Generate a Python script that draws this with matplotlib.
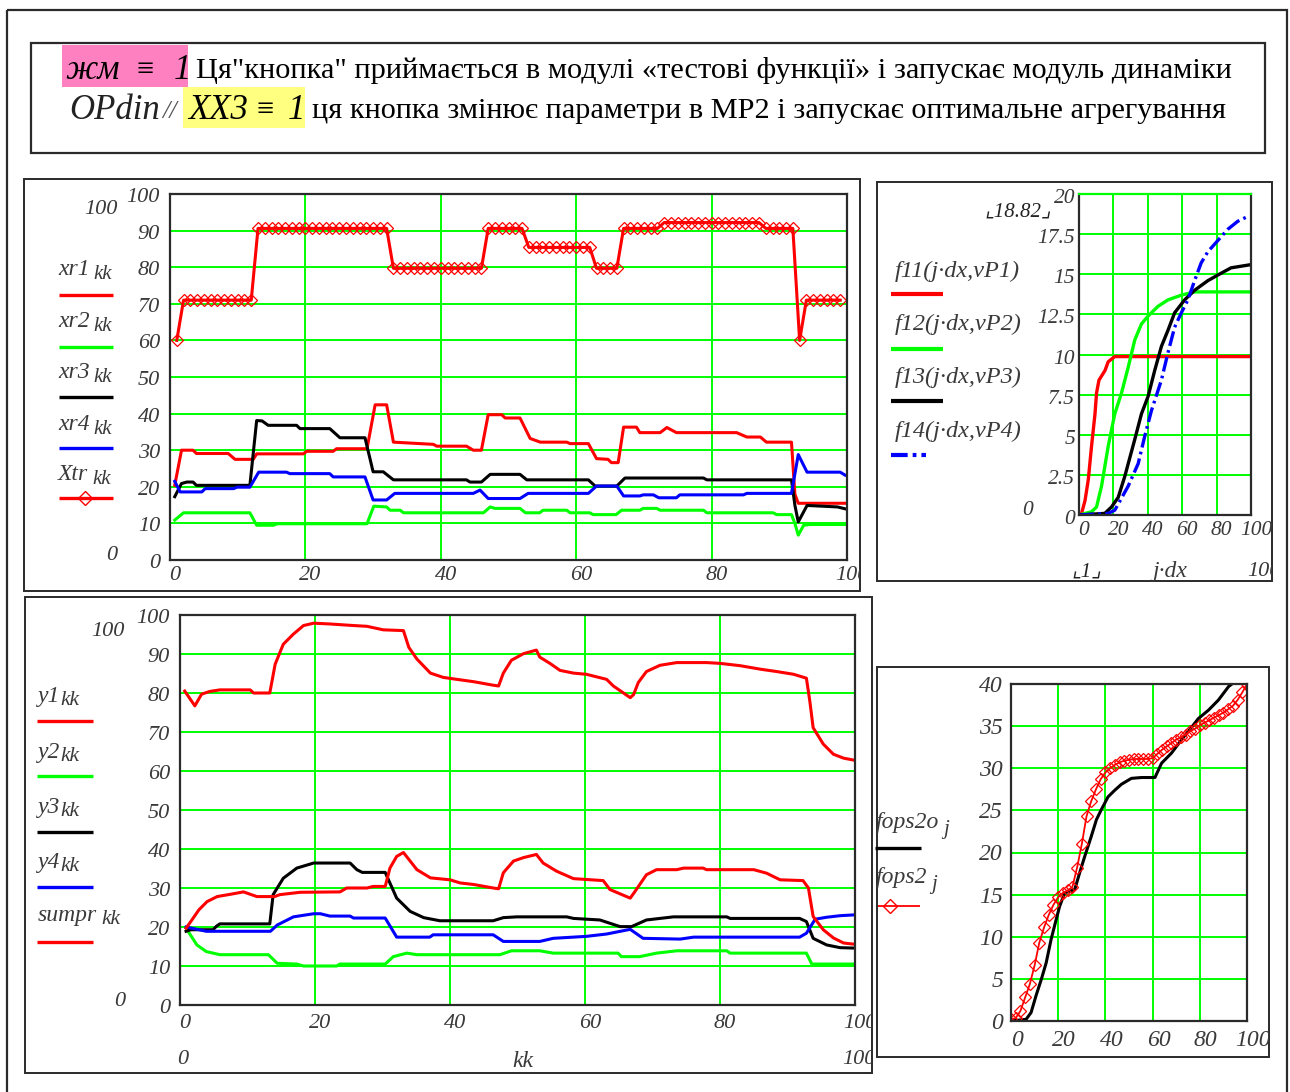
import numpy as np
import matplotlib
matplotlib.use("Agg")
import matplotlib.pyplot as plt
from matplotlib.patches import Rectangle
from matplotlib import transforms

# ---------------- data: aggregated regime, top-left plot ----------------
kk = np.arange(1, 100)
Xtr = [60,
       71, 71, 71, 71, 71, 71, 71, 71, 71, 71, 71,
       90.6, 90.6, 90.6, 90.6, 90.6, 90.6, 90.6, 90.6, 90.6, 90.6,
       90.6, 90.6, 90.6, 90.6, 90.6, 90.6, 90.6, 90.6, 90.6, 90.6,
       79.7, 79.7, 79.7, 79.7, 79.7, 79.7, 79.7, 79.7, 79.7, 79.7, 79.7, 79.7, 79.7, 79.7,
       90.6, 90.6, 90.6, 90.6, 90.6, 90.6,
       85.4, 85.4, 85.4, 85.4, 85.4, 85.4, 85.4, 85.4, 85.4, 85.4,
       79.7, 79.7, 79.7, 79.7,
       90.6, 90.6, 90.6, 90.6, 90.6, 90.6,
       92.2, 92.2, 92.2, 92.2, 92.2, 92.2, 92.2, 92.2, 92.2, 92.2, 92.2, 92.2, 92.2, 92.2, 92.2,
       90.6, 90.6, 90.6, 90.6, 90.6,
       60,
       71, 71, 71, 71, 71, 71]

xr1_t = [0.7, 1.7, 3.4, 3.9, 8.6, 9.6, 12.3, 12.8, 19.7, 20.2, 24.1, 24.6, 29.1, 30.3, 32.0, 33.0,
         38.9, 39.4, 43.8, 44.8, 46.0, 47.0, 49.0, 49.5, 51.7, 53.2, 54.7, 58.6, 59.1, 61.8, 63.0,
         64.7, 65.2, 66.2, 67.0, 68.9, 69.4, 72.4, 73.4, 74.8, 83.7, 85.2, 87.2, 88.1, 91.8, 92.3,
         92.8, 99.7]
xr1_v = [20.4, 30.0, 30.0, 29.1, 29.1, 27.5, 27.5, 29.0, 29.0, 29.7, 29.7, 30.4, 30.4, 42.4, 42.4,
         32.2, 31.6, 31.1, 31.1, 30.0, 30.0, 39.7, 39.7, 38.8, 38.8, 33.2, 32.2, 32.2, 31.8, 31.8,
         27.7, 27.5, 26.6, 26.6, 36.3, 36.3, 34.8, 34.8, 36.2, 34.8, 34.8, 33.6, 33.6, 32.2, 32.2,
         18.0, 15.5, 15.5]

xr2_t = [0.7, 2.0, 11.8, 12.8, 15.3, 15.8, 29.1, 30.1, 32.0, 32.5, 34.0, 34.5, 46.3, 47.3, 48.0,
         51.7, 52.5, 54.6, 55.1, 58.6, 59.1, 62.0, 62.5, 65.9, 66.7, 69.4, 69.9, 71.9, 72.4, 78.8,
         79.3, 89.1, 89.6, 91.8, 92.3, 92.8, 93.6, 94.5, 99.7]
xr2_v = [10.9, 12.9, 12.9, 9.5, 9.5, 9.9, 9.9, 14.7, 14.5, 13.6, 13.6, 12.9, 12.9, 14.5, 14.1,
         14.1, 12.9, 12.9, 13.6, 13.6, 12.9, 12.9, 12.4, 12.4, 13.6, 13.6, 14.1, 14.1, 13.6, 13.6,
         12.9, 12.9, 12.4, 12.4, 10.0, 6.8, 9.5, 9.7, 9.7]

xr3_t = [0.7, 1.7, 2.5, 3.4, 3.9, 11.8, 12.8, 13.6, 14.5, 18.7, 19.2, 23.6, 25.1, 28.8, 29.5, 30.0,
         31.5, 33.0, 43.8, 44.3, 46.0, 47.3, 51.7, 52.7, 61.8, 62.8, 66.0, 67.2, 78.8, 79.3, 91.8,
         92.3, 92.8, 94.1, 98.6, 99.7]
xr3_v = [17.3, 20.9, 21.3, 21.3, 20.4, 20.4, 38.1, 38.0, 36.8, 36.8, 35.9, 35.9, 33.4, 33.4, 28.0,
         24.1, 24.1, 21.9, 21.9, 21.3, 21.3, 23.4, 23.4, 21.9, 21.9, 20.2, 20.2, 22.4, 22.4, 21.9,
         21.9, 15.0, 10.4, 14.9, 14.5, 14.0]

xr4_t = [0.7, 1.5, 4.7, 5.2, 9.4, 9.9, 11.8, 13.1, 17.2, 17.7, 23.6, 24.1, 28.8, 30.0, 32.0, 33.2,
         44.8, 45.8, 47.0, 51.7, 52.9, 61.8, 63.0, 66.0, 67.0, 69.4, 69.9, 71.4, 72.2, 74.8, 75.3,
         84.7, 85.2, 91.8, 92.8, 94.1, 99.0, 99.7]
xr4_v = [21.5, 18.6, 18.6, 19.5, 19.5, 19.9, 19.9, 24.0, 24.0, 23.6, 23.6, 22.7, 22.7, 16.4, 16.4,
         18.2, 18.2, 19.1, 16.8, 16.8, 18.2, 18.2, 20.2, 20.2, 17.5, 17.5, 17.8, 17.8, 17.0, 17.0,
         17.8, 17.8, 18.2, 18.2, 28.8, 24.0, 24.0, 23.2]

# ---------------- data: test functions, top-right plot ----------------
f11_x = [0, 1.5, 3.5, 5.4, 7.3, 9.3, 10.2, 11.6, 15.1, 17.0, 20.8, 100]
f11_y = [0, 0.1, 0.9, 2.2, 4.3, 6.3, 7.6, 8.4, 9.0, 9.55, 9.87, 9.87]
f12_x = [0, 7.3, 10.2, 13.1, 17.0, 20.8, 24.7, 28.6, 32.4, 36.3, 40.2, 45.9, 51.7, 59.5, 67.2, 100]
f12_y = [0, 0.2, 0.5, 1.8, 4.3, 6.3, 7.6, 9.2, 10.9, 11.9, 12.4, 13.0, 13.4, 13.7, 13.9, 13.9]
f13_x = [0, 15.0, 18.9, 22.8, 26.6, 32.4, 36.3, 40.2, 44.0, 47.9, 51.7, 55.6, 61.4, 67.2, 74.9,
         80.7, 88.4, 94.2, 100]
f13_y = [0, 0.1, 0.5, 1.1, 2.4, 4.7, 6.3, 7.4, 9.0, 10.5, 11.5, 12.6, 13.4, 14.0, 14.6, 14.95,
         15.4, 15.5, 15.6]
f14_x = [0, 17.0, 20.8, 28.6, 34.4, 38.2, 42.1, 47.9, 51.7, 55.6, 59.5, 63.3, 67.2, 71.0, 74.9,
         80.7, 86.5, 92.3, 98.1]
f14_y = [0, 0.1, 0.3, 1.8, 3.2, 4.9, 6.5, 8.4, 10.1, 11.7, 12.6, 13.4, 14.6, 15.7, 16.4, 17.1,
         17.8, 18.3, 18.6]

# ---------------- data: dynamics, bottom-left plot ----------------
y1_t = [0.7, 2.2, 3.2, 4.4, 5.9, 10.4, 10.9, 13.3, 14.1, 15.3, 16.8, 18.3, 19.8, 22.2, 25.7, 27.7,
        30.1, 33.1, 33.9, 35.1, 37.1, 39.0, 41.0, 43.5, 46.4, 47.2, 47.9, 49.1, 50.9, 52.8, 53.3,
        54.8, 56.3, 58.3, 60.2, 63.2, 64.2, 66.7, 67.2, 67.9, 69.1, 71.1, 73.6, 78.0, 80.0, 83.0,
        86.0, 88.4, 90.9, 92.8, 93.3, 93.8, 95.3, 96.8, 98.3, 99.8]
y1_v = [80.5, 76.7, 79.7, 80.4, 80.8, 80.8, 80.0, 80.0, 87.4, 92.5, 95.1, 97.3, 97.9, 97.7, 97.3,
        97.1, 96.2, 96.0, 91.7, 88.7, 85.1, 84.0, 83.5, 82.9, 82.0, 81.8, 85.1, 88.4, 90.1, 91.0,
        89.2, 87.6, 85.8, 85.1, 84.8, 83.5, 81.8, 78.8, 79.6, 82.7, 85.5, 87.1, 87.8, 87.8, 87.6,
        87.0, 86.1, 85.5, 84.8, 83.8, 78.0, 71.1, 66.9, 64.3, 63.3, 62.8]

y2_t = [0.9, 2.5, 3.9, 5.9, 13.1, 14.4, 17.3, 18.3, 23.2, 23.7, 30.4, 31.6, 33.6, 35.1, 47.4, 49.1,
        53.3, 55.3, 64.9, 65.4, 68.1, 70.6, 73.6, 81.0, 81.5, 92.8, 93.6, 99.8]
y2_v = [19.7, 15.4, 13.7, 12.9, 12.9, 10.7, 10.5, 10.0, 10.0, 10.5, 10.5, 12.4, 13.3, 12.9, 12.9,
        13.9, 13.9, 13.3, 13.3, 12.4, 12.4, 13.3, 13.9, 13.9, 13.3, 13.3, 10.5, 10.5]

y3_t = [0.9, 1.6, 4.9, 5.4, 5.9, 13.3, 13.8, 15.3, 17.3, 19.8, 25.2, 26.2, 27.0, 30.4, 32.1, 34.1,
        36.1, 38.5, 46.4, 47.9, 49.9, 57.3, 58.3, 62.2, 65.2, 66.9, 69.1, 73.1, 81.0, 81.5, 91.8,
        92.8, 93.8, 95.8, 97.8, 99.8]
y3_v = [18.9, 19.3, 19.3, 20.2, 20.8, 20.8, 28.3, 32.5, 35.1, 36.4, 36.4, 34.7, 34.0, 34.0, 27.4,
        24.0, 22.4, 21.6, 21.6, 22.4, 22.6, 22.6, 22.2, 21.8, 20.1, 20.1, 21.8, 22.6, 22.6, 22.2,
        22.2, 21.4, 17.1, 15.4, 14.7, 14.6]

y4_t = [0.9, 3.9, 13.4, 14.4, 16.8, 19.8, 20.8, 22.2, 25.2, 25.7, 30.4, 32.1, 37.0, 37.5, 46.4,
        47.9, 53.3, 55.3, 60.2, 63.2, 66.7, 68.6, 74.1, 76.1, 91.8, 92.8, 94.1, 95.8, 97.8, 99.8]
y4_v = [20.0, 18.9, 18.9, 20.5, 22.6, 23.4, 23.4, 22.8, 22.8, 22.3, 22.3, 17.4, 17.4, 18.0, 18.0,
        16.3, 16.3, 17.1, 17.6, 18.2, 19.4, 17.1, 16.9, 17.4, 17.4, 18.4, 22.0, 22.5, 22.9, 23.1]

sumpr_t = [0.9, 1.6, 2.8, 4.0, 5.5, 7.5, 9.4, 11.4, 14.0, 14.8, 17.8, 23.7, 24.7, 27.7, 28.6, 30.4,
           31.1, 32.1, 33.1, 35.1, 37.1, 40.0, 41.5, 43.5, 46.4, 47.2, 47.9, 49.4, 50.9, 52.8, 53.8,
           55.8, 58.3, 62.7, 63.7, 66.7, 67.4, 69.1, 70.6, 73.6, 74.6, 77.5, 78.0, 85.0, 86.9, 88.9,
           92.3, 93.1, 93.8, 95.3, 96.8, 98.3, 99.8]
sumpr_v = [19.7, 21.4, 24.4, 26.5, 27.8, 28.4, 29.0, 27.8, 27.8, 28.3, 28.9, 29.0, 30.0, 30.0, 30.4,
           30.4, 35.1, 38.1, 39.1, 34.7, 32.6, 32.1, 31.3, 30.9, 30.0, 29.8, 33.9, 36.9, 37.8, 38.6,
           36.4, 34.3, 32.4, 31.9, 29.6, 27.4, 29.1, 33.4, 34.7, 34.7, 35.1, 35.1, 34.7, 34.7, 33.8,
           32.1, 31.9, 30.0, 22.7, 19.3, 17.2, 15.9, 15.6]

# ---------------- data: cost functions, bottom-right plot ----------------
fops2o_x = [0, 6.4, 8.5, 10.6, 12.8, 14.9, 17.0, 19.1, 20.6, 22.7, 27.0, 29.1, 31.2, 34.0, 36.2,
            38.3, 41.1, 44.0, 46.8, 51.0, 55.3, 61.0, 63.8, 68.0, 72.3, 76.6, 79.4, 83.7, 87.9,
            92.2, 93.6, 100]
fops2o_y = [0, 0.2, 1.0, 3.0, 4.9, 6.9, 9.7, 12.0, 13.6, 15.2, 15.6, 17.6, 19.5, 21.9, 23.9, 25.1,
            26.6, 27.4, 28.1, 28.8, 28.9, 28.9, 30.6, 31.8, 33.4, 34.9, 35.9, 36.9, 38.1, 39.7,
            40.0, 41.5]
j = np.arange(0, 101, 2)
fops2 = [0.2, 0.35, 1.2, 2.8, 4.4, 6.6, 9.3, 11.1, 12.6, 13.8,
         14.7, 15.2, 15.5, 15.9, 18.2, 21.0, 24.3, 26.1, 27.5, 28.7,
         29.5, 30.0, 30.4, 30.7, 30.9, 31.0, 31.1, 31.1, 31.1, 31.1,
         31.2, 31.7, 32.2, 32.6, 33.0, 33.4, 33.7, 34.0, 34.4, 34.7,
         35.1, 35.4, 35.7, 36.0, 36.3, 36.6, 37.0, 37.4, 38.1, 39.0,
         40.0]

# ---------------- figure ----------------
W, H = 1290, 1092
fig = plt.figure(figsize=(W / 100, H / 100), dpi=100)
bg = fig.add_axes([0, 0, 1, 1], zorder=0)
bg.set_xlim(0, W)
bg.set_ylim(H, 0)
bg.axis('off')
renderer = fig.canvas.get_renderer()

SERIF = 'Liberation Serif'
TCOL = '#3a3a3a'
RED, GREEN, BLUE, BLACK = '#ff0000', '#00ff00', '#0000ff', '#000000'
GRID = '#00ff00'


def frame(x0, y0, x1, y1, lw=1.4, color='#2a2a2a'):
    r = Rectangle((x0, y0), x1 - x0, y1 - y0, fill=False, ec=color, lw=lw)
    bg.add_patch(r)
    return r


def panel(l, t, r, b, xlim, ylim, xstep, ystep):
    ax = fig.add_axes([l / W, 1 - b / H, (r - l) / W, (b - t) / H], zorder=2)
    ax.set_xlim(*xlim)
    ax.set_ylim(*ylim)
    ax.set_xticks(np.arange(xlim[0], xlim[1] + 1e-6, xstep))
    ax.set_yticks(np.arange(ylim[0], ylim[1] + 1e-6, ystep))
    ax.grid(True, color=GRID, lw=1.4)
    ax.set_axisbelow(True)
    ax.tick_params(length=0, labelbottom=False, labelleft=False)
    for s in ax.spines.values():
        s.set_color('#2a2a2a')
        s.set_linewidth(1.6)
    return ax


def tick_texts(ax, clip, xvals, yvals, xdx, xdy, ydx, ydy, fs=16):
    for v, s in xvals:
        tr = transforms.offset_copy(ax.get_xaxis_transform(), fig=fig, x=xdx, y=xdy, units='dots')
        t = ax.text(v, 0, s, transform=tr, ha='center', va='baseline', fontsize=fs,
                    family=SERIF, style='italic', color=TCOL, clip_on=True)
        t.set_clip_path(clip)
    for v, s in yvals:
        tr = transforms.offset_copy(ax.get_yaxis_transform(), fig=fig, x=ydx, y=ydy, units='dots')
        t = ax.text(0, v, s, transform=tr, ha='right', va='baseline', fontsize=fs,
                    family=SERIF, style='italic', color=TCOL, clip_on=True)
        t.set_clip_path(clip)


def label(x, y, s, fs=16, ha='left', clip=None, family=SERIF, color=TCOL, style='italic'):
    t = bg.text(x, y, s, fontsize=fs, ha=ha, va='baseline', family=family, style=style,
                color=color, clip_on=clip is not None)
    if clip is not None:
        t.set_clip_path(clip)
    return t


def sublabel(x, y, main, sub, fs=17, fs_sub=15, gap=3, drop=4):
    t = label(x, y, main, fs=fs)
    w = t.get_window_extent(renderer).width
    label(x + w + gap, y + drop, sub, fs=fs_sub)


def fit_text(x0, x1, y, s, fs=20, **kw):
    t = bg.text(x0, y, s, va='baseline', ha='left', fontsize=fs, **kw)
    w = t.get_window_extent(renderer).width
    t.set_fontsize(fs * (x1 - x0) / w)
    return t


def swatch(x0, x1, y, color, lw=2.4, **kw):
    bg.plot([x0, x1], [y, y], color=color, lw=lw, solid_capstyle='butt', **kw)


# outer page border
frame(7, 10, 1287, 1110, lw=1.6)

# ---------------- header box ----------------
frame(31, 43, 1265, 153, lw=1.6)
bg.add_patch(Rectangle((62, 45), 126, 42, fc='#ff80c0', ec='none'))
bg.add_patch(Rectangle((183, 87), 122, 41, fc='#ffff80', ec='none'))
label(65, 79, 'жм', fs=25, color='black')
label(136, 78, '≡', fs=22, color='black', style='normal')
label(174, 79, '1', fs=25, color='black')
fit_text(196, 1235, 78, 'Ця"кнопка" приймається в модулі «тестові функції» і запускає модуль динаміки',
         fs=20, family=SERIF, color='black')
label(69, 119, 'OPdin', fs=25, color='#222222')
label(162, 118, '//', fs=19, color='#555555')
label(188, 119, 'XX3', fs=25, color='black')
label(256, 118, '≡', fs=22, color='black', style='normal')
label(288, 119, '1', fs=25, color='black')
fit_text(312, 1228, 118, 'ця кнопка змінює параметри в МР2 і запускає оптимальне агрегування',
         fs=20, family=SERIF, color='black')

# ---------------- top-left: regimes ----------------
clip1 = frame(24, 179, 860, 591)
ax1 = panel(170, 194, 847, 560, (0, 100), (0, 100), 20, 10)
ax1.plot(kk, Xtr, color=RED, lw=2.2, marker='D', ms=6, mfc='none', mec=RED, mew=0.9)
ax1.plot(xr1_t, xr1_v, color=RED, lw=2.2)
ax1.plot(xr2_t, xr2_v, color=GREEN, lw=2.2)
ax1.plot(xr3_t, xr3_v, color=BLACK, lw=2.2)
ax1.plot(xr4_t, xr4_v, color=BLUE, lw=2.2)
tick_texts(ax1, clip1,
           [(v, str(v)) for v in range(0, 101, 20)],
           [(v, str(v)) for v in range(0, 101, 10)],
           xdx=5, xdy=-20, ydx=-10, ydy=-8)
label(118, 214, '100', ha='right')
label(117, 560, '0', ha='right')
for name, y_txt, y_ln, col in [('xr1', 275, 295, RED), ('xr2', 327, 347, GREEN),
                                ('xr3', 378, 397, BLACK), ('xr4', 430, 448, BLUE),
                                ('Xtr', 480, 498, RED)]:
    sublabel(58, y_txt, name, 'kk', fs=17, fs_sub=15, gap=4, drop=4)
    swatch(59, 113, y_ln, col)
bg.plot([85], [498], marker='D', ms=7, mfc='none', mec=RED, mew=1.0)

# ---------------- top-right: test functions ----------------
clip2 = frame(877, 182, 1272, 581)
ax2 = panel(1079, 194, 1251, 515, (0, 100), (0, 20), 20, 2.5)
ax2.spines['top'].set_color(GRID)
ax2.plot(f11_x, f11_y, color=RED, lw=2.4)
ax2.plot(f12_x, f12_y, color=GREEN, lw=2.4)
ax2.plot(f13_x, f13_y, color=BLACK, lw=2.4)
ax2.plot(f14_x, f14_y, color=BLUE, lw=2.4, dashes=(4.5, 1.3, 0.8, 1.3))
tick_texts(ax2, clip2,
           [(v, str(v)) for v in range(0, 101, 20)],
           [(v, ('%g' % v)) for v in np.arange(0, 20.01, 2.5)],
           xdx=5, xdy=-20, ydx=-4, ydy=-9, fs=15.5)
label(984, 217, '⌞18.82⌟', fs=15, family=[SERIF, 'DejaVu Sans'], color='#222222')
label(1033, 515, '0', ha='right', fs=15.5)
label(1071, 577, '⌞1⌟', fs=15, family=[SERIF, 'DejaVu Sans'], color='#222222')
label(1153, 577, 'j·dx', fs=17)
label(1247, 576, '100', fs=16, clip=clip2)
for name, y_txt, y_ln, col in [('f11(j·dx,vP1)', 277, 294, RED), ('f12(j·dx,vP2)', 330, 349, GREEN),
                                ('f13(j·dx,vP3)', 383, 401, BLACK)]:
    label(895, y_txt, name, fs=17.5)
    swatch(891, 943, y_ln, col, lw=3)
label(895, 437, 'f14(j·dx,vP4)', fs=17.5)
bg.plot([891, 926], [455, 455], color=BLUE, lw=3, dashes=(4.0, 1.2, 0.9, 1.2))

# ---------------- bottom-left: dynamics ----------------
clip3 = frame(25, 597, 872, 1073)
ax3 = panel(180, 615, 855, 1005, (0, 100), (0, 100), 20, 10)
ax3.plot(y1_t, y1_v, color=RED, lw=2.2)
ax3.plot(y2_t, y2_v, color=GREEN, lw=2.2)
ax3.plot(y3_t, y3_v, color=BLACK, lw=2.2)
ax3.plot(y4_t, y4_v, color=BLUE, lw=2.2)
ax3.plot(sumpr_t, sumpr_v, color=RED, lw=2.2)
tick_texts(ax3, clip3,
           [(v, str(v)) for v in range(0, 101, 20)],
           [(v, str(v)) for v in range(0, 101, 10)],
           xdx=5, xdy=-23, ydx=-10, ydy=-8)
label(125, 636, '100', ha='right')
label(125, 1006, '0', ha='right')
label(177, 1064, '0')
label(512, 1067, 'kk', fs=17)
label(842, 1064, '100', clip=clip3)
for name, y_txt, y_ln, col, gap in [('y1', 702, 721, RED, 0), ('y2', 758, 776, GREEN, 0),
                                     ('y3', 813, 832, BLACK, 0), ('y4', 868, 887, BLUE, 0),
                                     ('sumpr', 921, 942, RED, 4)]:
    sublabel(38, y_txt, name, 'kk', fs=17, fs_sub=15.5, gap=gap, drop=3)
    swatch(37, 93, y_ln, col)

# ---------------- bottom-right: cost functions ----------------
clip4 = frame(877, 667, 1269, 1057)
ax4 = panel(1011, 684, 1247, 1021, (0, 100), (0, 40), 20, 5)
ax4.plot(fops2o_x, fops2o_y, color=BLACK, lw=2.2)
ax4.plot(j, fops2, color=RED, lw=1.3, marker='D', ms=6, mfc='none', mec=RED, mew=0.9)
tick_texts(ax4, clip4,
           [(v, str(v)) for v in range(0, 101, 20)],
           [(v, str(v)) for v in range(0, 41, 5)],
           xdx=6, xdy=-25, ydx=-8, ydy=-8, fs=17)
sublabel(876, 828, 'fops2o', 'j', fs=17, fs_sub=15, gap=4, drop=6)
swatch(875, 921, 848, BLACK)
sublabel(876, 883, 'fops2', 'j', fs=17, fs_sub=15, gap=4, drop=6)
swatch(878, 920, 906, RED, lw=1.3)
bg.plot([890], [906], marker='D', ms=7, mfc='none', mec=RED, mew=1.0)

fig.savefig('out.png', dpi=100)
